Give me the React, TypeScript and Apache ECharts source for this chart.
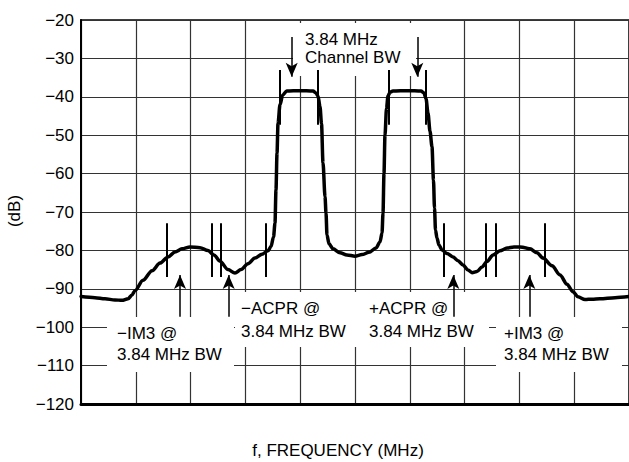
import React, { useEffect, useRef } from "react";
import * as echarts from "echarts";

// Spectrum trace (x in grid divisions 0..10, y in dB)
const freq = [
  0.0, 0.255, 0.438, 0.62, 0.748, 0.858, 0.931, 0.985, 1.131, 1.296, 1.442, 1.588, 1.715, 1.843, 1.989,
  2.172, 2.318, 2.427, 2.536, 2.682, 2.81, 2.92, 3.047, 3.175, 3.303, 3.412, 3.467, 3.513, 3.54, 3.558,
  3.577, 3.595, 3.631, 3.681, 3.754, 3.996, 4.234, 4.288, 4.325, 4.361, 4.389, 4.416, 4.453, 4.471,
  4.489, 4.526, 4.599, 4.726, 4.854, 5.0, 5.128, 5.255, 5.383, 5.456, 5.493, 5.511, 5.529, 5.547, 5.575,
  5.602, 5.639, 5.693, 5.967, 6.204, 6.259, 6.296, 6.332, 6.369, 6.405, 6.432, 6.451, 6.469, 6.496,
  6.533, 6.588, 6.679, 6.788, 6.88, 6.971, 7.062, 7.135, 7.226, 7.318, 7.409, 7.518, 7.646, 7.774,
  7.901, 8.011, 8.102, 8.193, 8.321, 8.431, 8.595, 8.741, 8.869, 8.978, 9.069, 9.197, 9.325, 9.471,
  9.745, 10.0,
];
const level = [
  -92.0, -92.3, -92.6, -92.9, -93.0, -92.6, -91.6, -90.5, -87.8, -85.3, -83.3, -81.7, -80.4, -79.6, -79.1,
  -79.3, -80.0, -81.2, -82.8, -85.0, -85.9, -85.0, -83.5, -82.0, -81.0, -80.1, -79.0, -76.5, -72.9, -64.3,
  -54.7, -46.9, -42.1, -39.5, -38.5, -38.4, -38.5, -39.0, -39.8, -42.5, -47.0, -57.2, -66.0, -70.3,
  -76.0, -78.3, -79.6, -80.6, -81.2, -81.5, -81.1, -80.5, -79.4, -77.8, -75.5, -70.3, -60.0, -50.0, -43.0,
  -39.8, -38.8, -38.5, -38.4, -38.5, -39.0, -40.5, -44.2, -49.0, -53.0, -61.7, -69.0, -74.7, -76.8,
  -78.6, -79.9, -80.8, -81.7, -82.7, -83.8, -85.1, -85.8, -85.5, -84.3, -82.9, -81.2, -80.1, -79.4,
  -79.1, -79.1, -79.3, -79.6, -80.6, -82.0, -84.0, -86.4, -88.8, -90.8, -92.1, -92.8, -92.7, -92.6,
  -92.3, -92.0,
];

// Bandwidth marker positions
const upperMarkers = [3.631, 4.325, 5.608, 6.296];
const upperMarkerRange = [-33.0, -47.3];
const lowerMarkers = [1.569, 2.391, 2.549, 3.37, 6.611, 7.385, 7.56, 8.455];
const lowerMarkerRange = [-72.9, -86.9];

// Annotation arrows
const channelArrows = [3.845, 6.137];
const channelArrowRange = [-24.4, -34.8];
const bandArrows = [1.807, 2.695, 6.794, 8.181];
const bandArrowRange = [-97.3, -86.4];

// Axis
const yMin = -120;
const yMax = -20;
const yStep = 10;
const xMin = 0;
const xMax = 10;
const xStep = 1;

const annotationTexts = [
  "3.84 MHz\nChannel BW",
  "\u2212ACPR @\n3.84 MHz BW",
  "+ACPR @\n3.84 MHz BW",
  "\u2212IM3 @\n3.84 MHz BW",
  "+IM3 @\n3.84 MHz BW",
];
const xTitle = "f, FREQUENCY (MHz)";
const yTitle = "(dB)";

const FONT = "'Liberation Sans', Arial, Helvetica, sans-serif";

export default function App() {
  const ref = useRef<HTMLDivElement>(null);
  useEffect(() => {
    if (!ref.current) return;
    const chart = echarts.init(ref.current, null, { renderer: "svg" });

    const seg = (x: number, r: number[]) => [
      { coord: [x, r[0]], symbol: "none" },
      { coord: [x, r[1]], symbol: "none" },
    ];
    const arrow = (x: number, r: number[]) => [
      { coord: [x, r[0]], symbol: "none" },
      { coord: [x, r[1]], symbol: "arrow", symbolSize: [9, 14] },
    ];

    const markerData: any[] = [
      ...upperMarkers.map((x) => seg(x, upperMarkerRange)),
      ...lowerMarkers.map((x) => seg(x, lowerMarkerRange)),
    ];
    const arrowData: any[] = [
      ...channelArrows.map((x) => arrow(x, channelArrowRange)),
      ...bandArrows.map((x) => arrow(x, bandArrowRange)),
    ];

    const boxes = [
      { x: 293, y: 23, w: 123, h: 53 },
      { x: 235, y: 292, w: 254, h: 55 },
      { x: 107, y: 317, w: 127, h: 55 },
      { x: 496, y: 317, w: 126, h: 55 },
    ];
    const textPos = [
      { x: 305, y: 30.7, lh: 18 },
      { x: 241, y: 297.3, lh: 22.5 },
      { x: 369, y: 297.3, lh: 22.5 },
      { x: 117, y: 322.3, lh: 21.5 },
      { x: 504, y: 322.3, lh: 21.5 },
    ];

    const graphics: any[] = [
      ...boxes.map((b) => ({
        type: "rect",
        z: 1,
        silent: true,
        shape: { x: b.x, y: b.y, width: b.w, height: b.h },
        style: { fill: "#fff" },
      })),
      ...annotationTexts.map((t, i) => ({
        type: "text",
        z: 10,
        x: textPos[i].x,
        y: textPos[i].y,
        style: {
          text: t,
          fontSize: 17,
          fontFamily: FONT,
          fill: "#000",
          align: "left",
          verticalAlign: "top",
          lineHeight: textPos[i].lh,
        },
      })),
      {
        type: "text",
        z: 10,
        x: 338,
        y: 450,
        style: {
          text: xTitle,
          fontSize: 17,
          fontFamily: FONT,
          fill: "#000",
          align: "center",
          verticalAlign: "middle",
        },
      },
      {
        type: "text",
        z: 10,
        x: 14,
        y: 211,
        rotation: Math.PI / 2,
        style: {
          text: yTitle,
          fontSize: 17,
          fontFamily: FONT,
          fill: "#000",
          align: "center",
          verticalAlign: "middle",
        },
      },
    ];

    chart.setOption({
      animation: false,
      backgroundColor: "#fff",
      grid: {
        left: 81,
        right: 0,
        top: 20,
        bottom: 58,
        show: true,
        borderColor: "#000",
        borderWidth: 1.5,
        outerBoundsMode: "none",
      },
      xAxis: {
        type: "value",
        min: xMin,
        max: xMax,
        interval: xStep,
        axisLine: { show: true, onZero: false, lineStyle: { color: "#000", width: 3 } },
        axisTick: { show: false },
        axisLabel: { show: false },
        splitLine: { show: true, lineStyle: { color: "#333", width: 1.2 } },
      },
      yAxis: {
        type: "value",
        min: yMin,
        max: yMax,
        interval: yStep,
        axisLine: { show: true, onZero: false, lineStyle: { color: "#000", width: 2 } },
        axisTick: { show: false },
        axisLabel: {
          margin: 7,
          color: "#000",
          fontSize: 17,
          fontFamily: FONT,
          formatter: (v: number) => String(v).replace("-", "\u2212"),
        },
        splitLine: { show: true, lineStyle: { color: "#333", width: 1.2 } },
      },
      graphic: graphics,
      series: [
        {
          type: "line",
          data: freq.map((f, i) => [f, level[i]]),
          showSymbol: false,
          smooth: 0.3,
          smoothMonotone: "x",
          lineStyle: { color: "#000", width: 3.5, cap: "round", join: "round" },
          z: 3,
          silent: true,
        },
        {
          type: "line",
          data: [],
          z: 4,
          markLine: {
            silent: true,
            animation: false,
            label: { show: false },
            lineStyle: { color: "#000", width: 2, type: "solid" },
            data: markerData,
          },
        },
        {
          type: "line",
          data: [],
          z: 4,
          markLine: {
            silent: true,
            animation: false,
            label: { show: false },
            symbol: ["none", "arrow"],
            symbolSize: [9, 14],
            lineStyle: { color: "#000", width: 1.5, type: "solid" },
            itemStyle: { color: "#000" },
            data: arrowData,
          },
        },
      ],
    });
    return () => chart.dispose();
  }, []);
  return (
    <div
      ref={ref}
      style={{ position: "fixed", left: 0, top: 0, width: 629, height: 462 }}
    />
  );
}
